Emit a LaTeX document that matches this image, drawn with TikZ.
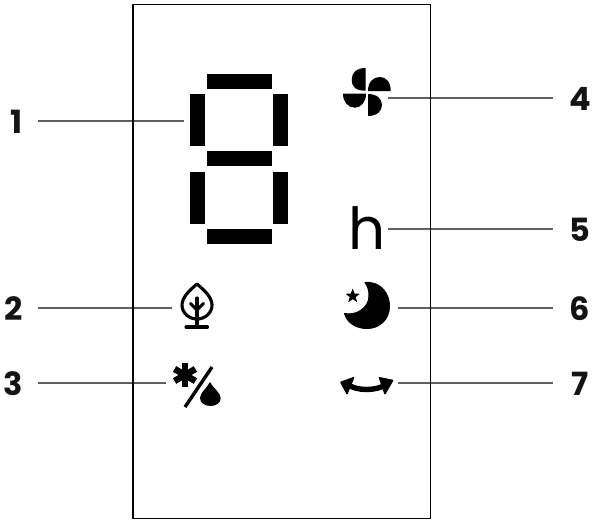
\documentclass[tikz,border=0pt]{standalone}
\usepackage{fontspec}
\setmainfont{Poppins}
\tikzset{
  seg/.style={fill=black,draw=none},
  icon/.style={fill=black,draw=none},
  iconline/.style={draw=black,line width=3.1pt,line cap=round,line join=round},
  lead/.style={draw=black!62,line width=1.7pt},
  num/.style={font=\fontsize{32}{34}\selectfont\bfseries,text=black!92,inner sep=0pt,anchor=center},
}
\begin{document}
\begin{tikzpicture}[x=1pt,y=-1pt]
\useasboundingbox (0,0) rectangle (593,520);
\fill[white] (0,0) rectangle (593,520);
% leaders
\node[num] (n1) at (16.5,121.5) {1};
\node[num] (n2) at (13.5,309) {2};
\node[num] (n3) at (13.5,384) {3};
\node[num] (n4) at (580,99) {4};
\node[num] (n5) at (580,230) {5};
\node[num] (n6) at (580,309) {6};
\node[num] (n7) at (580,384) {7};
\coordinate (e1) at (184,120.7);
\coordinate (e2) at (172,307.7);
\coordinate (e3) at (166,382.7);
\coordinate (e4) at (388,97.7);
\coordinate (e5) at (388,228.7);
\coordinate (e6) at (398,307.7);
\coordinate (e7) at (398,382.7);
\coordinate (s1) at (38,120.7);
\coordinate (s2) at (38,307.7);
\coordinate (s3) at (38,382.7);
\coordinate (s4) at (553,97.7);
\coordinate (s5) at (553,228.7);
\coordinate (s6) at (553,307.7);
\coordinate (s7) at (553,382.7);
\foreach \i in {1,...,7} \draw[lead] (s\i) -- (e\i);
\draw[black,line width=1.8pt] (133,4.5) rectangle (430.5,518.5);
% seven segments
\fill[seg] (207,74) rectangle (272,89);
\fill[seg] (190,94) rectangle (205,146);
\fill[seg] (273,94) rectangle (288,146);
\fill[seg] (207,151) rectangle (272,166);
\fill[seg] (190,172) rectangle (205,224);
\fill[seg] (273,172) rectangle (288,224);
\fill[seg] (207,229) rectangle (272,244);
% fan
\fill[icon] (365.7,68) .. controls (356,68) and (351.7,73) .. (351.7,80) .. controls (351.7,87) and (356,90.7) .. (365.7,90.7) -- cycle;
\fill[icon] (368,91) .. controls (368,82) and (373,77) .. (380,77) .. controls (386,77) and (390.7,82) .. (390.7,91) -- cycle;
\fill[icon] (343,93.7) .. controls (343,102) and (348,107.7) .. (355,107.7) .. controls (361,107.7) and (366,102) .. (366,93.7) -- cycle;
\fill[icon] (368,94) .. controls (377,94) and (382,99) .. (382,105) .. controls (382,111) and (377,116) .. (368,116) -- cycle;
% h
\node[inner sep=0pt,font=\fontsize{58}{60}\selectfont,anchor=base] (h) at (367,249) {h};
% leaf tree
\draw[iconline] (197,284) .. controls (190,290) and (182,297) .. (182,305) .. controls (182,313) and (189,319) .. (197,319) .. controls (205,319) and (212,313) .. (212,305) .. controls (212,297) and (204,290) .. (197,284) -- cycle;
\draw[iconline] (197,298) -- (197,327);
\draw[iconline] (190.5,303.5) -- (197,310);
\draw[iconline] (203.5,303.5) -- (197,310);
\draw[iconline] (186,327) -- (207.5,327);
% percent: snow and drop
\draw[black,line width=3.4pt] (212,367) -- (185,407);
\foreach \a in {90,30,150} \draw[black,line width=6.5pt] (185,375) ++(\a:-12) -- ++(\a:24);
\fill[icon] (210,382) .. controls (206,389) and (200,393) .. (200,398) .. controls (200,403) and (205,406) .. (210.5,406) .. controls (216,406) and (220.7,403) .. (220.7,398) .. controls (220.7,393) and (214,389) .. (210,382) -- cycle;
% moon
\filldraw[icon,draw=black,line width=1pt,line join=round] (365,282.5) .. controls (381,281) and (389.5,294) .. (389.5,306) .. controls (389.5,320) and (379,328.5) .. (367,328.5) .. controls (355,328.5) and (347,322) .. (344.5,313.5) .. controls (356,316) and (369,308) .. (369,296) .. controls (369,290) and (367.5,286) .. (365,282.5) -- cycle;
\fill[icon] (352.7,288.5) -- (354.6,293.6) -- (359.9,293.8) -- (355.7,297.1) -- (357.2,302.2) -- (352.7,299.2) -- (348.2,302.2) -- (349.7,297.1) -- (345.5,293.8) -- (350.8,293.6) -- cycle;
% swing
\draw[black,line width=5.4pt] (347,384) .. controls (356,391.3) and (377,391.3) .. (387,384);
\filldraw[icon,draw=black,line width=1.6pt,line join=round] (341,382.3) -- (353.5,377.8) -- (347,393.5) -- cycle;
\filldraw[icon,draw=black,line width=1.6pt,line join=round] (392.5,380.5) -- (379.5,377.8) -- (385,393.5) -- cycle;
\end{tikzpicture}
\end{document}
